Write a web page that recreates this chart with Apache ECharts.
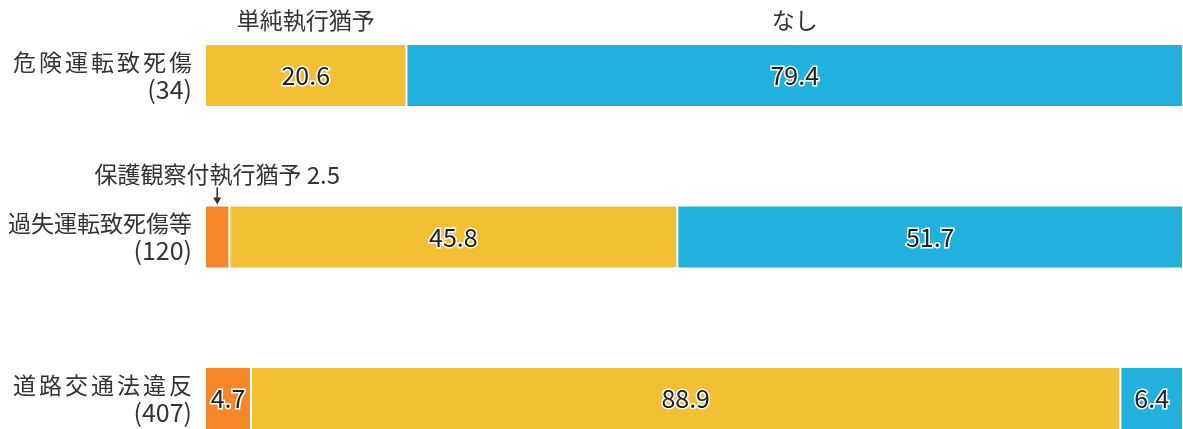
<!DOCTYPE html>
<html>
<head>
<meta charset="utf-8">
<script src="https://cdn.jsdelivr.net/npm/echarts@6/dist/echarts.min.js"></script>
<style>
  html, body { margin: 0; padding: 0; background: #fff; }
  #chart { width: 1183px; height: 429px; }
</style>
</head>
<body>
<div id="chart"></div>
<script>
// 区分と件数
const categories = ['危険運転致死傷', '過失運転致死傷等', '道路交通法違反']
const counts = [34, 120, 407]

// 構成比（%）
const probation = [0, 2.5, 4.7]   // 保護観察付執行猶予
const simple = [20.6, 45.8, 88.9] // 単純執行猶予
const none = [79.4, 51.7, 6.4]    // なし

const FONT = '"Noto Sans CJK JP", "Noto Sans", sans-serif'

const valueLabel = {
  show: true,
  position: 'inside',
  fontFamily: FONT,
  fontSize: 25,
  color: '#222',
  textBorderColor: '#fff',
  textBorderWidth: 3,
  formatter: p => (p.value ? p.value.toFixed(1) : '')
}

const topLabel = (text) => ({
  show: true,
  position: 'inside',
  offset: [0, -55],
  fontFamily: FONT,
  fontSize: 23,
  color: '#333',
  formatter: text
})

// 7文字の区分名は字間を空けて8文字の行と幅をそろえる
const spaced = (s) => {
  if (s.length >= 8) return s
  const chars = s.split('')
  return chars.map((c, i) => (i < chars.length - 1 ? `{s|${c}}` : c)).join('')
}

const chart = echarts.init(document.getElementById('chart'))
chart.setOption({
  animation: false,
  grid: { left: 205, right: 0, top: 75.5, height: 323 },
  xAxis: { type: 'value', min: 0, max: 100, show: false },
  yAxis: {
    type: 'category',
    inverse: true,
    boundaryGap: false,
    data: categories,
    axisLine: { show: false },
    axisTick: { show: false },
    splitLine: { show: false },
    axisLabel: {
      margin: 13,
      fontFamily: FONT,
      fontSize: 23,
      lineHeight: 27,
      color: '#333',
      align: 'right',
      formatter: (v, i) => `${spaced(v)}\n{n|(${counts[i]})}`,
      rich: {
        s: { fontFamily: FONT, fontSize: 23, lineHeight: 27, color: '#333', padding: [0, 3, 0, 0] },
        n: { fontFamily: FONT, fontSize: 25, lineHeight: 27, color: '#333' }
      }
    }
  },
  series: [
    {
      name: '保護観察付執行猶予',
      type: 'bar',
      stack: 'all',
      barWidth: 63,
      clip: false,
      itemStyle: { color: '#f5862a', borderColor: '#fff', borderWidth: 1 },
      label: valueLabel,
      data: probation.map((v, i) => i === 1
        ? {
            value: v,
            label: {
              show: true,
              position: 'top',
              distance: 19,
              fontFamily: FONT,
              fontSize: 23,
              color: '#333',
              textBorderWidth: 0,
              formatter: `保護観察付執行猶予 {n|${v}}`,
              rich: { n: { fontFamily: FONT, fontSize: 24, color: '#333' } }
            }
          }
        : v),
      markPoint: {
        symbol: 'path://M4,0 L6,0 L6,10 L10,10 L5,17 L0,10 L4,10 Z',
        symbolSize: [8, 17],
        symbolOffset: [0, -41],
        itemStyle: { color: '#333' },
        label: { show: false },
        data: [{ coord: [probation[1] / 2, 1] }]
      }
    },
    {
      name: '単純執行猶予',
      type: 'bar',
      stack: 'all',
      barWidth: 63,
      clip: false,
      itemStyle: { color: '#f2bf35', borderColor: '#fff', borderWidth: 1 },
      label: valueLabel,
      data: simple,
      markPoint: {
        symbol: 'circle',
        symbolSize: 1,
        itemStyle: { color: 'rgba(0,0,0,0)' },
        label: topLabel('単純執行猶予'),
        data: [{ coord: [probation[0] + simple[0] / 2, 0] }]
      }
    },
    {
      name: 'なし',
      type: 'bar',
      stack: 'all',
      barWidth: 63,
      clip: false,
      itemStyle: { color: '#22b0dd', borderColor: '#fff', borderWidth: 1 },
      label: valueLabel,
      data: none,
      markPoint: {
        symbol: 'circle',
        symbolSize: 1,
        itemStyle: { color: 'rgba(0,0,0,0)' },
        label: topLabel('なし'),
        data: [{ coord: [probation[0] + simple[0] + none[0] / 2, 0] }]
      }
    }
  ]
})
</script>
</body>
</html>
